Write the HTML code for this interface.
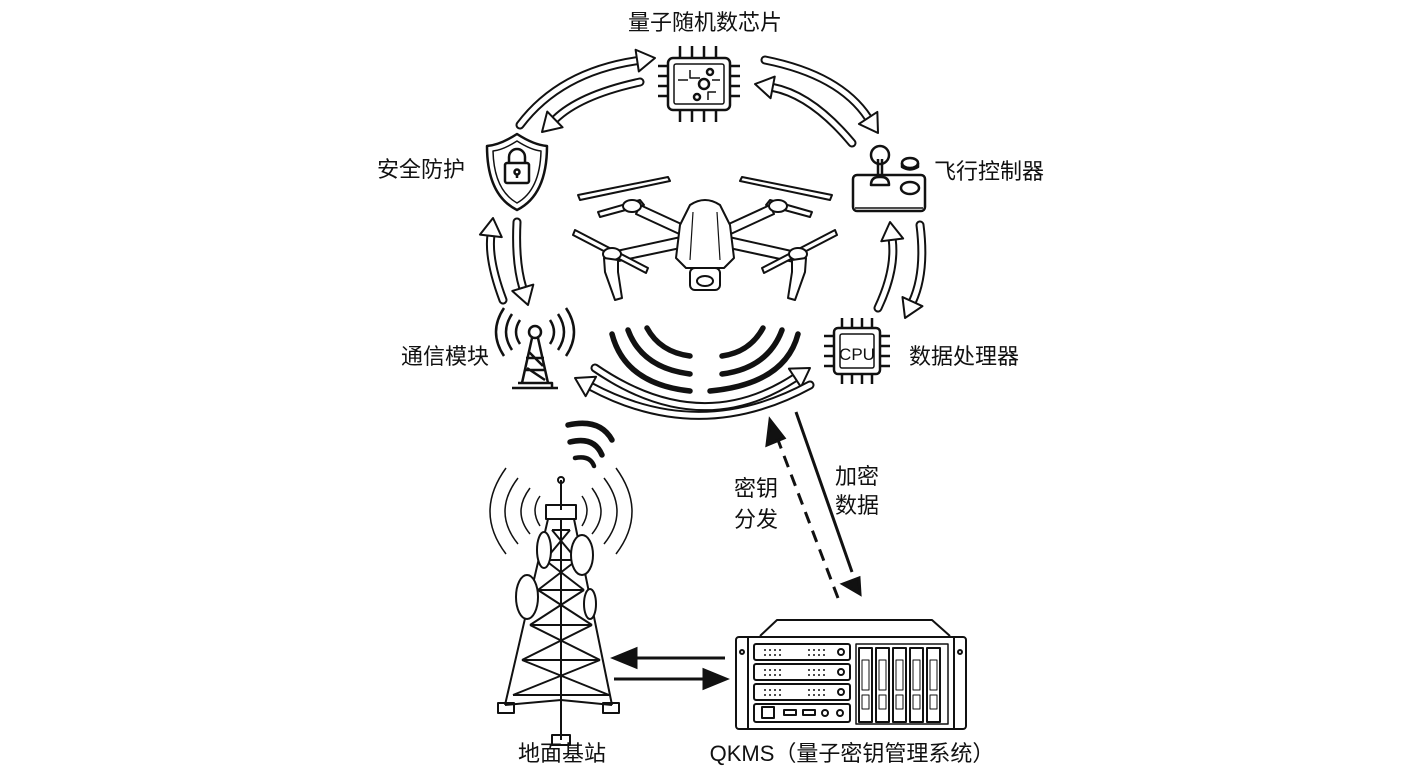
<!DOCTYPE html>
<html><head><meta charset="utf-8"><style>
html,body{margin:0;padding:0;background:#fff;}
svg{display:block;}
text{font-family:"Liberation Sans","Noto Sans CJK SC",sans-serif;fill:#111;}
</style></head><body>
<svg id="s" width="1408" height="768" viewBox="0 0 1408 768" xmlns="http://www.w3.org/2000/svg">
<g font-size="22">
<text x="705" y="30" text-anchor="middle">量子随机数芯片</text>
<text x="377" y="177">安全防护</text>
<text x="934" y="179">飞行控制器</text>
<text x="401" y="364">通信模块</text>
<text x="909" y="364">数据处理器</text>
<text x="734" y="496">密钥</text>
<text x="734" y="527">分发</text>
<text x="835" y="484">加密</text>
<text x="835" y="513">数据</text>
<text x="562" y="761" text-anchor="middle">地面基站</text>
<text x="852" y="761" text-anchor="middle">QKMS（量子密钥管理系统）</text>
</g>
<g fill="none" stroke="#111" stroke-width="2.5" stroke-linejoin="round">
<rect x="668" y="58" width="62" height="52" rx="5"/>
<rect x="674" y="64" width="50" height="40" rx="2" stroke-width="1.5"/>
<circle cx="704" cy="84" r="5"/><circle cx="710" cy="72" r="3"/><circle cx="697" cy="97" r="3"/>
<path d="M690 70v8h10M716 92h-8v8M678 80h10M720 80h-8" stroke-width="1.5"/>
<path d="M680 58v-12M692 58v-12M704 58v-12M716 58v-12M680 110v12M692 110v12M704 110v12M716 110v12M668 66h-10M668 76h-10M668 86h-10M668 96h-10M730 66h10M730 76h10M730 86h10M730 96h10"/>
<path d="M517 134 Q500 145 487 146 Q487 195 517 210 Q547 195 547 146 Q534 145 517 134Z"/>
<path d="M517 141 Q503 150 493 151 Q494 190 517 203 Q540 190 541 151 Q531 150 517 141Z" stroke-width="1.5"/>
<rect x="505" y="163" width="24" height="20" rx="2"/>
<path d="M509 163v-6a8 8 0 0 1 16 0v6"/>
<circle cx="517" cy="172" r="2.5"/><path d="M517 174v4"/>
<rect x="853" y="175" width="72" height="36" rx="4"/>
<path d="M855 208h68" stroke-width="1.5"/>
<path d="M871 185q0-8 8-8h2q8 0 8 8z"/>
<path d="M878 177v-18M882 177v-18"/>
<circle cx="880" cy="155" r="9"/>
<ellipse cx="910" cy="163" rx="8" ry="5"/><path d="M902 163v4q8 5 16 0v-4"/>
<ellipse cx="910" cy="188" rx="9" ry="6"/>
<circle cx="535" cy="332" r="6"/>
<path d="M532 338l-10 45M538 338l10 45M526 358h18M524 370h22M529 352l14 14M527 368l18 12"/>
<path d="M512 388h46M518 383h34v5"/>
<path d="M520 320q-8 12 0 24M512 314q-12 18 0 36M504 308q-16 24 0 48M550 320q8 12 0 24M558 314q12 18 0 36M566 308q16 24 0 48"/>
<rect x="834" y="328" width="46" height="46" rx="4"/>
<rect x="840" y="334" width="34" height="34" rx="2" stroke-width="1.5"/>
<path d="M842 328v-10M852 328v-10M862 328v-10M872 328v-10M842 374v10M852 374v10M862 374v10M872 374v10M834 336h-10M834 346h-10M834 356h-10M834 366h-10M880 336h10M880 346h10M880 356h10M880 366h10"/>
</g>
<text x="857" y="360" text-anchor="middle" font-size="17" style="font-family:'Liberation Sans',sans-serif">CPU</text>
<g fill="#fff" stroke="#111" stroke-width="2" stroke-linejoin="round">
<path d="M640 205 L690 228 L688 238 L636 214Z"/>
<path d="M770 205 L720 228 L722 238 L774 214Z"/>
<path d="M612 252 L690 235 L690 246 L614 262Z"/>
<path d="M796 252 L720 235 L720 246 L794 262Z"/>
<path d="M578 195 L668 177 L670 181 L580 200Z"/><path d="M598 212 L640 200 L644 205 L600 217Z"/>
<path d="M832 195 L742 177 L740 181 L830 200Z"/><path d="M812 212 L770 200 L766 205 L810 217Z"/>
<path d="M575 230 L648 268 L646 273 L573 235Z"/>
<path d="M835 230 L762 268 L764 273 L837 235Z"/>
<ellipse cx="632" cy="206" rx="9" ry="6"/><ellipse cx="778" cy="206" rx="9" ry="6"/>
<ellipse cx="612" cy="254" rx="9" ry="6"/><ellipse cx="798" cy="254" rx="9" ry="6"/>
<path d="M604 258 L605 272 L615 300 L622 298 L618 272 L618 260Z"/>
<path d="M806 258 L805 272 L795 300 L788 298 L792 272 L792 260Z"/>
<path d="M690 205 Q705 195 720 205 L730 225 L734 258 L724 268 L686 268 L676 258 L680 225Z"/>
<path d="M693 212 L690 260 M717 212 L720 260" fill="none" stroke-width="1.2"/>
<rect x="690" y="268" width="30" height="22" rx="5"/>
<ellipse cx="705" cy="281" rx="8" ry="5"/>
</g>
<g fill="none" stroke="#111" stroke-width="5.5" stroke-linecap="round">
<path d="M647 328 Q660 352 690 356"/>
<path d="M628 330 Q642 368 690 374"/>
<path d="M612 334 Q625 384 690 391"/>
<path d="M763 328 Q750 352 722 356"/>
<path d="M782 330 Q768 368 722 374"/>
<path d="M798 334 Q785 384 710 391"/>
<path d="M568 425 Q600 418 612 440"/>
<path d="M570 442 Q594 436 602 455"/>
<path d="M575 458 Q590 455 594 466" stroke-width="4.5"/>
</g>
<g fill="none" stroke="#111" stroke-width="2" stroke-linejoin="round">
<path d="M561 480v30"/><circle cx="561" cy="480" r="3"/>
<rect x="546" y="505" width="30" height="14"/>
<path d="M548 519 L505 705 M574 519 L612 705 M561 519 L561 740"/>
<path d="M552 530h18M545 560h32M538 590h46M530 625h62M522 660h78M513 695h96"/>
<path d="M552 530l25 30M570 530l-25 30M545 560l39 30M577 560l-39 30M538 590l54 35M584 590l-54 35M530 625l70 35M592 625l-70 35M522 660l87 35M600 660l-87 35"/>
<path d="M561 700 L505 705M561 700 L612 705"/>
<rect x="498" y="703" width="16" height="10"/><rect x="603" y="703" width="16" height="10"/><rect x="552" y="735" width="18" height="10"/>
<ellipse cx="544" cy="550" rx="7" ry="18" fill="#fff"/><ellipse cx="582" cy="555" rx="11" ry="20" fill="#fff"/>
<ellipse cx="527" cy="597" rx="11" ry="22" fill="#fff"/><ellipse cx="590" cy="604" rx="6" ry="15" fill="#fff"/>
<path d="M540 496q-10 14 0 30M530 488q-18 24 0 46M518 478q-26 34 0 66M506 468q-32 44 0 86M582 496q10 14 0 30M592 488q18 24 0 46M604 478q26 34 0 66M616 468q32 44 0 86" stroke-width="1.5"/>
</g>
<g fill="none" stroke="#111" stroke-width="2" stroke-linejoin="round">
<path d="M760 636 L777 620 L932 620 L950 636"/>
<rect x="736" y="637" width="230" height="92" rx="3" fill="#fff"/>
<path d="M748 637v92M954 637v92"/>
<circle cx="742" cy="652" r="2"/><circle cx="960" cy="652" r="2"/>
<rect x="754" y="644" width="96" height="16" rx="2"/>
<rect x="754" y="664" width="96" height="16" rx="2"/>
<rect x="754" y="684" width="96" height="16" rx="2"/>
<rect x="754" y="704" width="96" height="18" rx="2"/>
<circle cx="841" cy="652" r="3"/><circle cx="841" cy="672" r="3"/><circle cx="841" cy="692" r="3"/>
<path d="M764 650h20M764 655h20M764 670h20M764 675h20M764 690h20M764 695h20M808 650h20M808 655h20M808 670h20M808 675h20M808 690h20M808 695h20" stroke-dasharray="2 3" stroke-width="1.5"/>
<rect x="762" y="707" width="12" height="11"/><rect x="784" y="710" width="12" height="5"/><rect x="803" y="710" width="12" height="5"/>
<circle cx="825" cy="713" r="3"/><circle cx="840" cy="713" r="3"/>
<rect x="856" y="644" width="92" height="80" stroke-width="1.5"/>
<g id="bay"><rect x="859" y="648" width="13" height="74"/><rect x="862" y="660" width="7" height="30" stroke-width="1"/><rect x="862" y="695" width="7" height="14" stroke-width="1"/></g>
<use href="#bay" x="17"/><use href="#bay" x="34"/><use href="#bay" x="51"/><use href="#bay" x="68"/>
</g>
<g stroke="#111" stroke-width="3" fill="#111">
<path d="M725 658H632" fill="none"/><path d="M614 658l22-9v18z"/>
<path d="M614 679H707" fill="none"/><path d="M726 679l-22-9v18z"/>
<path d="M838 598 L778 440" fill="none" stroke-dasharray="12 8"/><path d="M770 420 l-3 25 l17-7z"/>
<path d="M796 412 L852 572" fill="none"/><path d="M860 594 l-17-10 l16-6z"/>
</g>
<g id="hollow"></g>
</svg>
<script>
var arrows=[
[[520,125],[560,72],[655,58]],
[[640,82],[580,95],[542,132]],
[[765,60],[840,75],[878,133]],
[[852,143],[812,95],[755,84]],
[[920,225],[926,272],[905,318]],
[[878,308],[896,270],[890,222]],
[[517,222],[515,262],[528,305]],
[[503,300],[488,260],[493,218]],
[[595,368],[700,440],[810,368]],
[[810,385],[700,445],[575,378]]
];
var g=document.getElementById('hollow'),h='';
arrows.forEach(function(a){
 var p0=a[0],c=a[1],p1=a[2];
 var dx=p1[0]-c[0],dy=p1[1]-c[1],L=Math.hypot(dx,dy);dx/=L;dy/=L;
 var hl=18,hw=11;
 var bx=p1[0]-dx*hl,by=p1[1]-dy*hl,nx=-dy,ny=dx;
 var d='M'+p0+' Q'+c+' '+bx+','+by;
 h+='<path d="'+d+'" fill="none" stroke="#111" stroke-width="9" stroke-linecap="round"/>';
 h+='<path d="'+d+'" fill="none" stroke="#fff" stroke-width="5" stroke-linecap="round"/>';
 h+='<path d="M'+(bx+nx*hw)+','+(by+ny*hw)+' L'+p1+' L'+(bx-nx*hw)+','+(by-ny*hw)+' L'+(bx+nx*3)+','+(by+ny*3)+' L'+(bx-nx*3)+','+(by-ny*3)+'Z" fill="#fff" stroke="#111" stroke-width="2" stroke-linejoin="round"/>';
});
g.innerHTML=h;
</script>
</body></html>
